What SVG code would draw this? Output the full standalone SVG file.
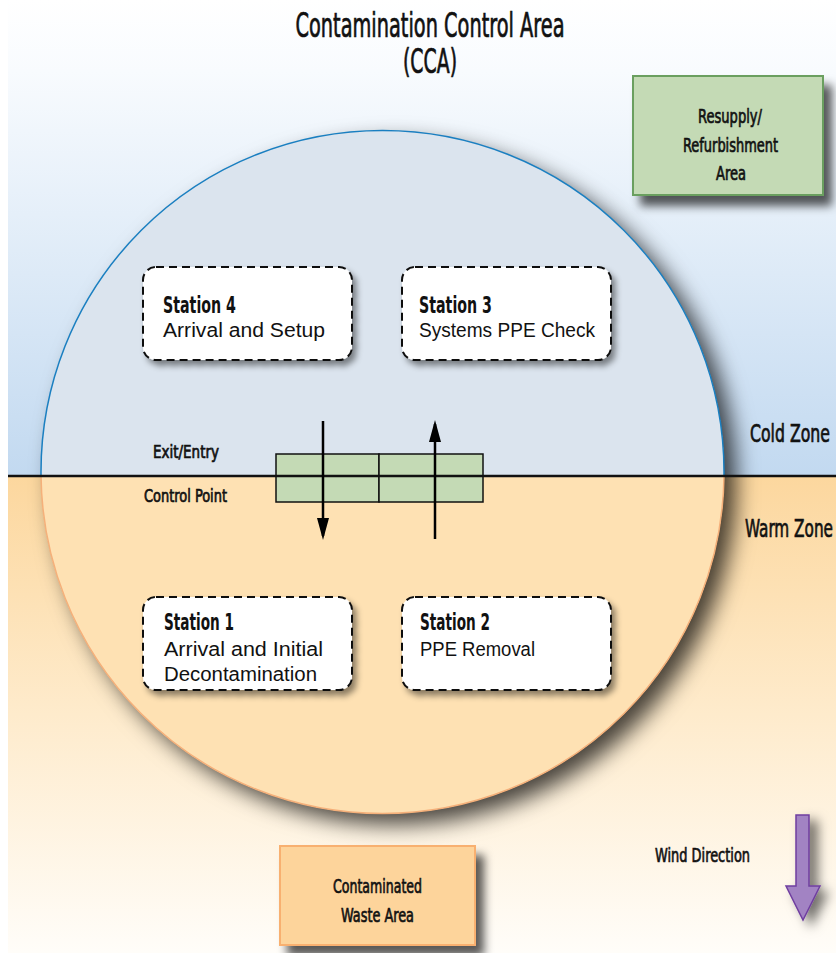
<svg xmlns="http://www.w3.org/2000/svg" width="836" height="953" viewBox="0 0 836 953">
<style>
.cond{font-family:'Liberation Sans Narrow','DejaVu Sans Condensed','Roboto Condensed','Liberation Sans',sans-serif;fill:#111;stroke:#111;stroke-width:0.7;}
.bold{font-family:'Liberation Sans Narrow','DejaVu Sans Condensed','Roboto Condensed','Liberation Sans',sans-serif;fill:#111;font-weight:bold;}
.reg{font-family:'Liberation Sans',Arial,sans-serif;fill:#111;}
.stn{fill:#fff;stroke:#111;stroke-width:2;stroke-dasharray:8 5;}
.cp{fill:#c4dab5;stroke:#111;stroke-width:1.5;}
.arr{stroke:#000;stroke-width:2.5;fill:none;}
</style>
<defs>
<linearGradient id="gTop" x1="0" y1="0" x2="0" y2="1">
<stop offset="0" stop-color="#ffffff"/>
<stop offset="0.15" stop-color="#f8fbfe"/>
<stop offset="1" stop-color="#c2d9f0"/>
</linearGradient>
<linearGradient id="gBot" x1="0" y1="0" x2="0" y2="1">
<stop offset="0" stop-color="#fcd79e"/>
<stop offset="0.5" stop-color="#feebcc"/>
<stop offset="1" stop-color="#fffdf9"/>
</linearGradient>
<clipPath id="clipTop"><rect x="0" y="0" width="836" height="476"/></clipPath>
<clipPath id="clipBot"><rect x="0" y="476" width="836" height="477"/></clipPath>
<filter id="shBig" x="-15%" y="-15%" width="140%" height="140%">
<feDropShadow dx="12" dy="11" stdDeviation="11" flood-color="#000" flood-opacity="0.72"/>
</filter>
<filter id="shBox" x="-15%" y="-15%" width="140%" height="145%">
<feDropShadow dx="8" dy="10" stdDeviation="5" flood-color="#000" flood-opacity="0.65"/>
</filter>
<filter id="shSt" x="-10%" y="-10%" width="125%" height="130%">
<feDropShadow dx="4" dy="5" stdDeviation="3" flood-color="#000" flood-opacity="0.45"/>
</filter>
<filter id="shWind" x="-60%" y="-20%" width="260%" height="150%">
<feDropShadow dx="8" dy="6" stdDeviation="6" flood-color="#000" flood-opacity="0.55"/>
</filter>
<marker id="ah" markerUnits="userSpaceOnUse" markerWidth="22" markerHeight="12" refX="18" refY="6" orient="auto">
<path d="M0,0 L22,6 L0,12 z" fill="#000"/>
</marker>
</defs>

<rect width="836" height="953" fill="#fff"/>
<rect x="8" y="0" width="828" height="476" fill="url(#gTop)"/>
<rect x="8" y="476" width="828" height="477" fill="url(#gBot)"/>

<g id="title">
<text class="cond" x="430" y="37" font-size="33" text-anchor="middle" textLength="269" lengthAdjust="spacingAndGlyphs">Contamination Control Area</text>
<text class="cond" x="430" y="73" font-size="33" text-anchor="middle" textLength="54" lengthAdjust="spacingAndGlyphs">(CCA)</text>
</g>

<g id="resupply-area">
<rect x="633" y="76" width="190" height="119" fill="#c4dab5" stroke="#6a9f5f" stroke-width="2" filter="url(#shBox)"/>
<text class="cond" x="730" y="123" font-size="20" text-anchor="middle" textLength="64" lengthAdjust="spacingAndGlyphs">Resupply/</text>
<text class="cond" x="730.5" y="152" font-size="20" text-anchor="middle" textLength="95" lengthAdjust="spacingAndGlyphs">Refurbishment</text>
<text class="cond" x="731" y="180" font-size="20" text-anchor="middle" textLength="30" lengthAdjust="spacingAndGlyphs">Area</text>
</g>

<g id="cca-circle">
<circle cx="382.5" cy="472" r="341.5" fill="#fee1b3" filter="url(#shBig)"/>
<circle cx="382.5" cy="472" r="341.5" fill="#dbe4ee" stroke="#1a7fc1" stroke-width="1.5" clip-path="url(#clipTop)"/>
<circle cx="382.5" cy="472" r="341.5" fill="none" stroke="#f5b07a" stroke-width="1.5" clip-path="url(#clipBot)"/>
</g>

<g id="control-point">
<rect class="cp" x="276" y="454" width="103" height="48"/>
<rect class="cp" x="379" y="454" width="104" height="48"/>
</g>

<g id="zone-boundary">
<line x1="8" y1="476" x2="836" y2="476" stroke="#111" stroke-width="2.5"/>
</g>

<g id="zone-labels">
<text class="cond" x="750" y="442" font-size="25" textLength="80" lengthAdjust="spacingAndGlyphs">Cold Zone</text>
<text class="cond" x="745" y="537" font-size="25" textLength="88" lengthAdjust="spacingAndGlyphs">Warm Zone</text>
<text class="cond" x="153" y="458" font-size="18" textLength="66" lengthAdjust="spacingAndGlyphs">Exit/Entry</text>
<text class="cond" x="144" y="502" font-size="18" textLength="83" lengthAdjust="spacingAndGlyphs">Control Point</text>
</g>

<g id="connectors">
<line class="arr" x1="323" y1="421" x2="323" y2="536" marker-end="url(#ah)"/>
<line class="arr" x1="435" y1="539" x2="435" y2="424" marker-end="url(#ah)"/>
</g>

<g id="station-4">
<rect class="stn" x="143" y="267" width="209" height="93" rx="13" filter="url(#shSt)"/>
<text class="bold" x="163" y="313" font-size="23" textLength="73" lengthAdjust="spacingAndGlyphs">Station 4</text>
<text class="reg" x="163" y="337" font-size="20" textLength="162" lengthAdjust="spacingAndGlyphs">Arrival and Setup</text>
</g>

<g id="station-3">
<rect class="stn" x="402" y="267" width="209" height="93" rx="13" filter="url(#shSt)"/>
<text class="bold" x="419" y="313" font-size="23" textLength="73" lengthAdjust="spacingAndGlyphs">Station 3</text>
<text class="reg" x="419" y="337" font-size="20" textLength="176" lengthAdjust="spacingAndGlyphs">Systems PPE Check</text>
</g>

<g id="station-1">
<rect class="stn" x="143" y="597" width="209" height="93" rx="13" filter="url(#shSt)"/>
<text class="bold" x="164" y="630" font-size="23" textLength="70" lengthAdjust="spacingAndGlyphs">Station 1</text>
<text class="reg" x="164" y="656" font-size="20" textLength="159" lengthAdjust="spacingAndGlyphs">Arrival and Initial</text>
<text class="reg" x="164" y="681" font-size="20" textLength="153" lengthAdjust="spacingAndGlyphs">Decontamination</text>
</g>

<g id="station-2">
<rect class="stn" x="402" y="597" width="209" height="93" rx="13" filter="url(#shSt)"/>
<text class="bold" x="420" y="630" font-size="23" textLength="70" lengthAdjust="spacingAndGlyphs">Station 2</text>
<text class="reg" x="420" y="656" font-size="20" textLength="115" lengthAdjust="spacingAndGlyphs">PPE Removal</text>
</g>

<g id="wind-direction">
<text class="cond" x="655" y="862" font-size="20" textLength="95" lengthAdjust="spacingAndGlyphs">Wind Direction</text>
<path d="M796,815 L809,815 L809,886 L820,886 L803,920 L786,886 L796,886 Z" fill="#a283c3" stroke="#6f3fa0" stroke-width="1.5" filter="url(#shWind)"/>
</g>

<g id="waste-area">
<rect x="280" y="846" width="195" height="99" fill="#fdd49b" stroke="#f8b070" stroke-width="2" filter="url(#shBox)"/>
<text class="cond" x="377.5" y="893" font-size="20" text-anchor="middle" textLength="89" lengthAdjust="spacingAndGlyphs">Contaminated</text>
<text class="cond" x="377.5" y="922" font-size="20" text-anchor="middle" textLength="73" lengthAdjust="spacingAndGlyphs">Waste Area</text>
</g>
</svg>
